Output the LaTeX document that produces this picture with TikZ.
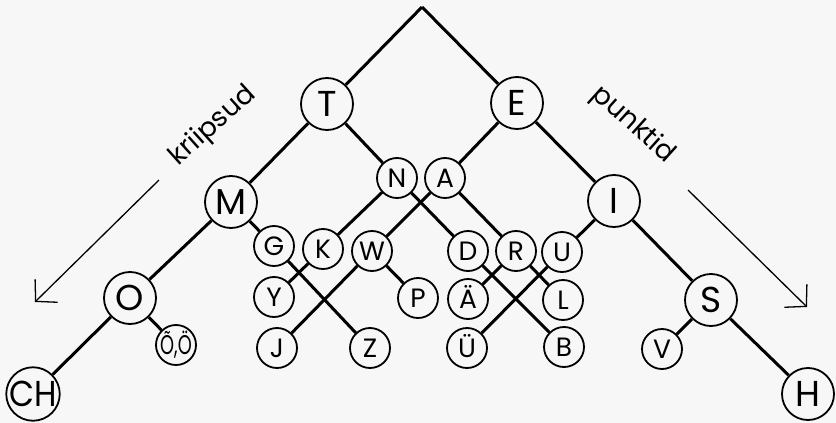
\documentclass[tikz,border=0pt]{standalone}
\usepackage{fontspec}
\usepackage{graphicx}
\setmainfont{Poppins}
\usetikzlibrary{arrows.meta}
\definecolor{bg}{gray}{0.97}
\begin{document}
\begin{tikzpicture}[x=1pt,y=-1pt,
  big/.style={circle,draw,line width=1.8pt,fill=bg,minimum size=52pt,inner sep=0pt,
    font=\fontsize{36}{36}\selectfont,text height=25pt,text depth=0pt},
  small/.style={circle,draw,line width=1.8pt,fill=bg,minimum size=40pt,inner sep=0pt,
    font=\fontsize{26.5}{26.5}\selectfont,text height=18.5pt,text depth=0pt},
  tree/.style={line width=3pt},
  hint/.style={line width=1.3pt,-{Straight Barb[length=15pt,width=32pt,line width=1.3pt]}},
  lbl/.style={font=\fontsize{27}{27}\selectfont,inner sep=0pt}]
\fill[bg] (0,0) rectangle (836,423);
\useasboundingbox (0,0) rectangle (836,423);

\coordinate (apex) at (422,7);
% level 1
\node[big] (T) at (327,104) {T};
\node[big] (E) at (517,103) {E};
% level 2
\node[big] (M) at (231,202) {M};
\node[small] (N) at (397,178) {N};
\node[small] (A) at (445,178) {A};
\node[big] (I) at (614,201) {I};
% level 3
\node[big] (O) at (130,298) {O};
\node[small] (G) at (274,246) {G};
\node[small] (K) at (323,249) {K};
\node[small] (W) at (372,251) {W};
\node[small] (D) at (468,251) {D};
\node[small] (R) at (516,251) {R};
\node[small] (U) at (562,252) {U};
\node[big] (S) at (711,300) {S};
% level 4
\node[big] (CH) at (33,394) {\scalebox{0.9}[1]{CH}};
\node[small] (OO) at (176,345) {\fontsize{27}{27}\selectfont\scalebox{0.66}[1]{Õ,Ö}};
\node[small] (Z) at (370,348) {Z};
\node[small] (Y) at (274,297) {Y};
\node[small] (J) at (277,348) {J};
\node[small] (P) at (418,298) {P};
\node[small] (B) at (564,347) {B};
\node[small] (L) at (563,300) {L};
\node[small] (Ae) at (468,299) {Ä};
\node[small] (Ue) at (467,348) {Ü};
\node[small] (V) at (662,349) {V};
\node[big] (H) at (808,394) {H};

% connectors
\draw[tree] (apex) -- (T);
\draw[tree] (apex) -- (E);
\draw[tree] (T) -- (M);
\draw[tree] (T) -- (N);
\draw[tree] (E) -- (A);
\draw[tree] (E) -- (I);
\draw[tree] (M) -- (O);
\draw[tree] (M) -- (G);
\draw[tree] (N) -- (K);
\draw[tree] (N) -- (D);
\draw[tree] (A) -- (W);
\draw[tree] (A) -- (R);
\draw[tree] (I) -- (U);
\draw[tree] (I) -- (S);
\draw[tree] (O) -- (CH);
\draw[tree] (O) -- (OO);
\draw[tree] (G) -- (Z);
\draw[tree] (K) -- (Y);
\draw[tree] (W) -- (J);
\draw[tree] (W) -- (P);
\draw[tree] (D) -- (B);
\draw[tree] (R) -- (Ae);
\draw[tree] (R) -- (L);
\draw[tree] (U) -- (Ue);
\draw[tree] (S) -- (V);
\draw[tree] (S) -- (H);

% side labels and arrows
\node[lbl,rotate=42] (kr) at (213,126) {kriipsud};
\node[lbl,rotate=-42] (pu) at (633,125) {punktid};
\coordinate (la1) at (159,180);
\coordinate (la2) at (35,302);
\coordinate (ra1) at (688,190);
\coordinate (ra2) at (807,307);
\draw[hint] (la1) -- (la2);
\draw[hint] (ra1) -- (ra2);
\end{tikzpicture}
\end{document}
